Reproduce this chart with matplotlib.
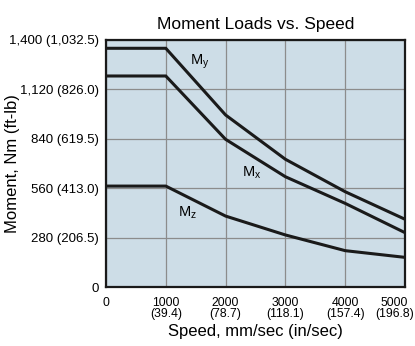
import matplotlib
matplotlib.use('Agg')
import matplotlib.pyplot as plt
from matplotlib.transforms import ScaledTranslation

plt.rcParams['font.family'] = ['Liberation Sans', 'DejaVu Sans']

speed = [0, 1000, 2000, 3000, 4000, 5000]
my_vals = [1353, 1353, 975, 724, 540, 384]
mx_vals = [1196, 1196, 837, 625, 474, 308]
mz_vals = [572, 572, 402, 295, 206, 168]

yticks = [0, 280, 560, 840, 1120, 1400]
ytick_labels = ['0', '280 (206.5)', '560 (413.0)', '840 (619.5)', '1,120 (826.0)', '1,400 (1,032.5)']
xticks = [0, 1000, 2000, 3000, 4000, 5000]
xtick_labels = ['0', '1000\n(39.4)', '2000\n(78.7)', '3000\n(118.1)', '4000\n(157.4)', '5000\n(196.8)']

fig = plt.figure(figsize=(4.15, 3.46), dpi=100)
ax = fig.add_axes([0.2554, 0.1705, 0.7205, 0.7139])
ax.set_facecolor('#cddde7')

for vals in (my_vals, mx_vals, mz_vals):
    ax.plot(speed, vals, color='#1a1a1a', lw=2.2, solid_joinstyle='miter', zorder=3)

ax.set_xlim(0, 5000)
ax.set_ylim(0, 1400)
ax.set_xticks(xticks)
ax.set_xticklabels(xtick_labels, fontsize=8.8, linespacing=0.9)
ax.set_yticks(yticks)
ax.set_yticklabels(ytick_labels, fontsize=9.5)
ax.tick_params(axis='y', length=0, pad=5)
ax.tick_params(axis='x', length=0, pad=7)
ax.grid(True, color='#8c8c8c', lw=0.9)
ax.set_axisbelow(True)
for s in ax.spines.values():
    s.set_linewidth(1.6)
    s.set_color('#1a1a1a')

# keep the last speed label inside the figure
last = ax.get_xticklabels()[-1]
last.set_horizontalalignment('right')
last.set_multialignment('center')
last.set_transform(last.get_transform() + ScaledTranslation(0.09, 0, fig.dpi_scale_trans))

ax.text(1572, 1275, r'M$_\mathregular{y}$', fontsize=10.5, ha='center', va='center')
ax.text(2440, 646, r'M$_\mathregular{x}$', fontsize=10.5, ha='center', va='center')
ax.text(1355, 420, r'M$_\mathregular{z}$', fontsize=10.5, ha='center', va='center')

ax.set_title('Moment Loads vs. Speed', fontsize=12.5, pad=8)
ax.set_xlabel('Speed, mm/sec (in/sec)', fontsize=12, labelpad=3)
ax.set_ylabel('Moment, Nm (ft-lb)', fontsize=12)
ax.yaxis.set_label_coords(-0.288, 0.5)

fig.savefig('out.png', dpi=100)
